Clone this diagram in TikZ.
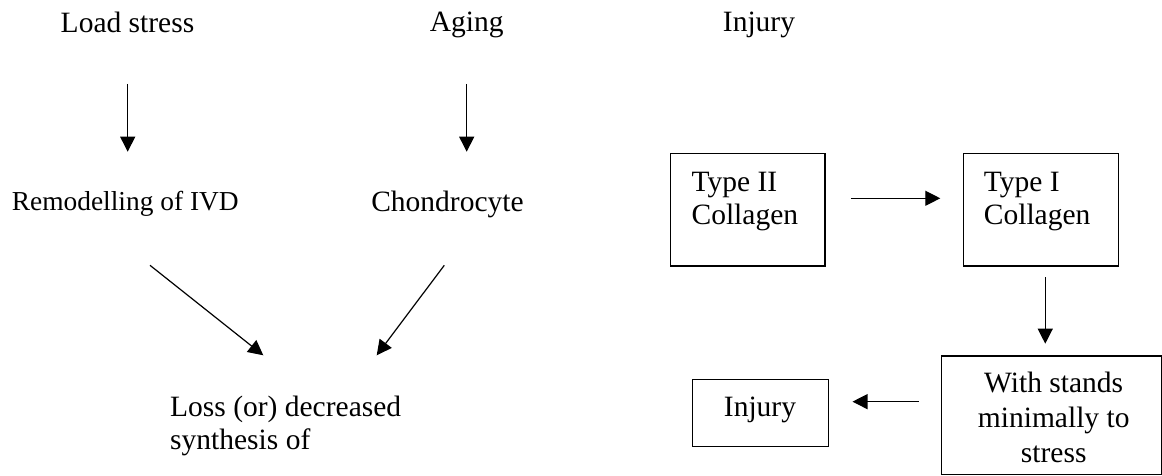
\documentclass[tikz,border=0pt]{standalone}
\usepackage{fontspec}
\setmainfont{Liberation Serif}
\usetikzlibrary{arrows.meta}
\begin{document}
\begin{tikzpicture}[x=1pt,y=-1pt,
  txt/.style={inner sep=0pt,font=\fontsize{29.5}{33}\selectfont},
  smalltxt/.style={inner sep=0pt,font=\fontsize{27.4}{31}\selectfont},
  boxnode/.style={draw,line width=1.2pt,inner sep=0pt,anchor=north west},
  arr/.style={-{Triangle[length=15pt,width=15pt]},line width=1.2pt}]
\useasboundingbox (0,0) rectangle (1162,476);
% left column texts
\node[txt,anchor=base] (load) at (127.5,32.3) {Load stress};
\node[txt,anchor=base] (aging) at (466.7,32) {Aging};
\node[txt,anchor=base] (injtop) at (759,32) {Injury};
\node[smalltxt,anchor=base west] (remod) at (11.7,210.7) {Remodelling of IVD};
\node[txt,anchor=base] (chondro) at (447.5,211.7) {Chondrocyte};
\node[txt,anchor=base west,align=left,font=\fontsize{29.5}{33.3}\selectfont] (loss) at (170,449.3) {Loss (or) decreased\\synthesis of};
% boxes
\node[boxnode,minimum width=154.3pt,minimum height=112.6pt] (t2) at (670,152.7) {};
\node[boxnode,minimum width=155.3pt,minimum height=112.6pt] (t1) at (962.7,152.7) {};
\node[boxnode,minimum width=220pt,minimum height=118.7pt] (with) at (941,355.3) {};
\node[boxnode,minimum width=136.3pt,minimum height=67.3pt] (injb) at (691.7,378.7) {};
\node[txt,anchor=base west,align=left,font=\fontsize{29.5}{32.3}\selectfont] (t2txt) at (691.4,224) {Type II\\Collagen};
\node[txt,anchor=base west,align=left,font=\fontsize{29.5}{32.3}\selectfont] (t1txt) at (983.7,224) {Type I\\Collagen};
\node[txt,anchor=base,align=center,font=\fontsize{29.5}{34.65}\selectfont] (withtxt) at (1053.7,462) {With stands\\minimally to\\stress};
\node[txt,anchor=base] (injtxt) at (760,416) {Injury};
% arrow end points
\coordinate (a1s) at (127.7,84);
\coordinate (a1e) at (127.7,151.7);
\coordinate (a2s) at (466.7,84);
\coordinate (a2e) at (466.7,151.7);
\coordinate (a3s) at (150,265.3);
\coordinate (a3e) at (263.3,355.3);
\coordinate (a4s) at (444.3,265.3);
\coordinate (a4e) at (376.7,355.3);
% arrows
\draw[arr] (a1s) -- (a1e);
\draw[arr] (a2s) -- (a2e);
\draw[arr] (a3s) -- (a3e);
\draw[arr] (a4s) -- (a4e);
\draw[arr,shorten <=25.4pt,shorten >=22.4pt] ([yshift=11.3pt]t2.east) -- ([yshift=11.3pt]t1.west);
\draw[arr,shorten <=10.7pt,shorten >=11.6pt] ([xshift=4.3pt]t1.south) -- ([xshift=4.3pt]t1.south |- with.north);
\draw[arr,shorten <=22.3pt,shorten >=23.3pt] ([yshift=13.6pt]with.west) -- ([yshift=11.3pt]injb.east);
\end{tikzpicture}
\end{document}
